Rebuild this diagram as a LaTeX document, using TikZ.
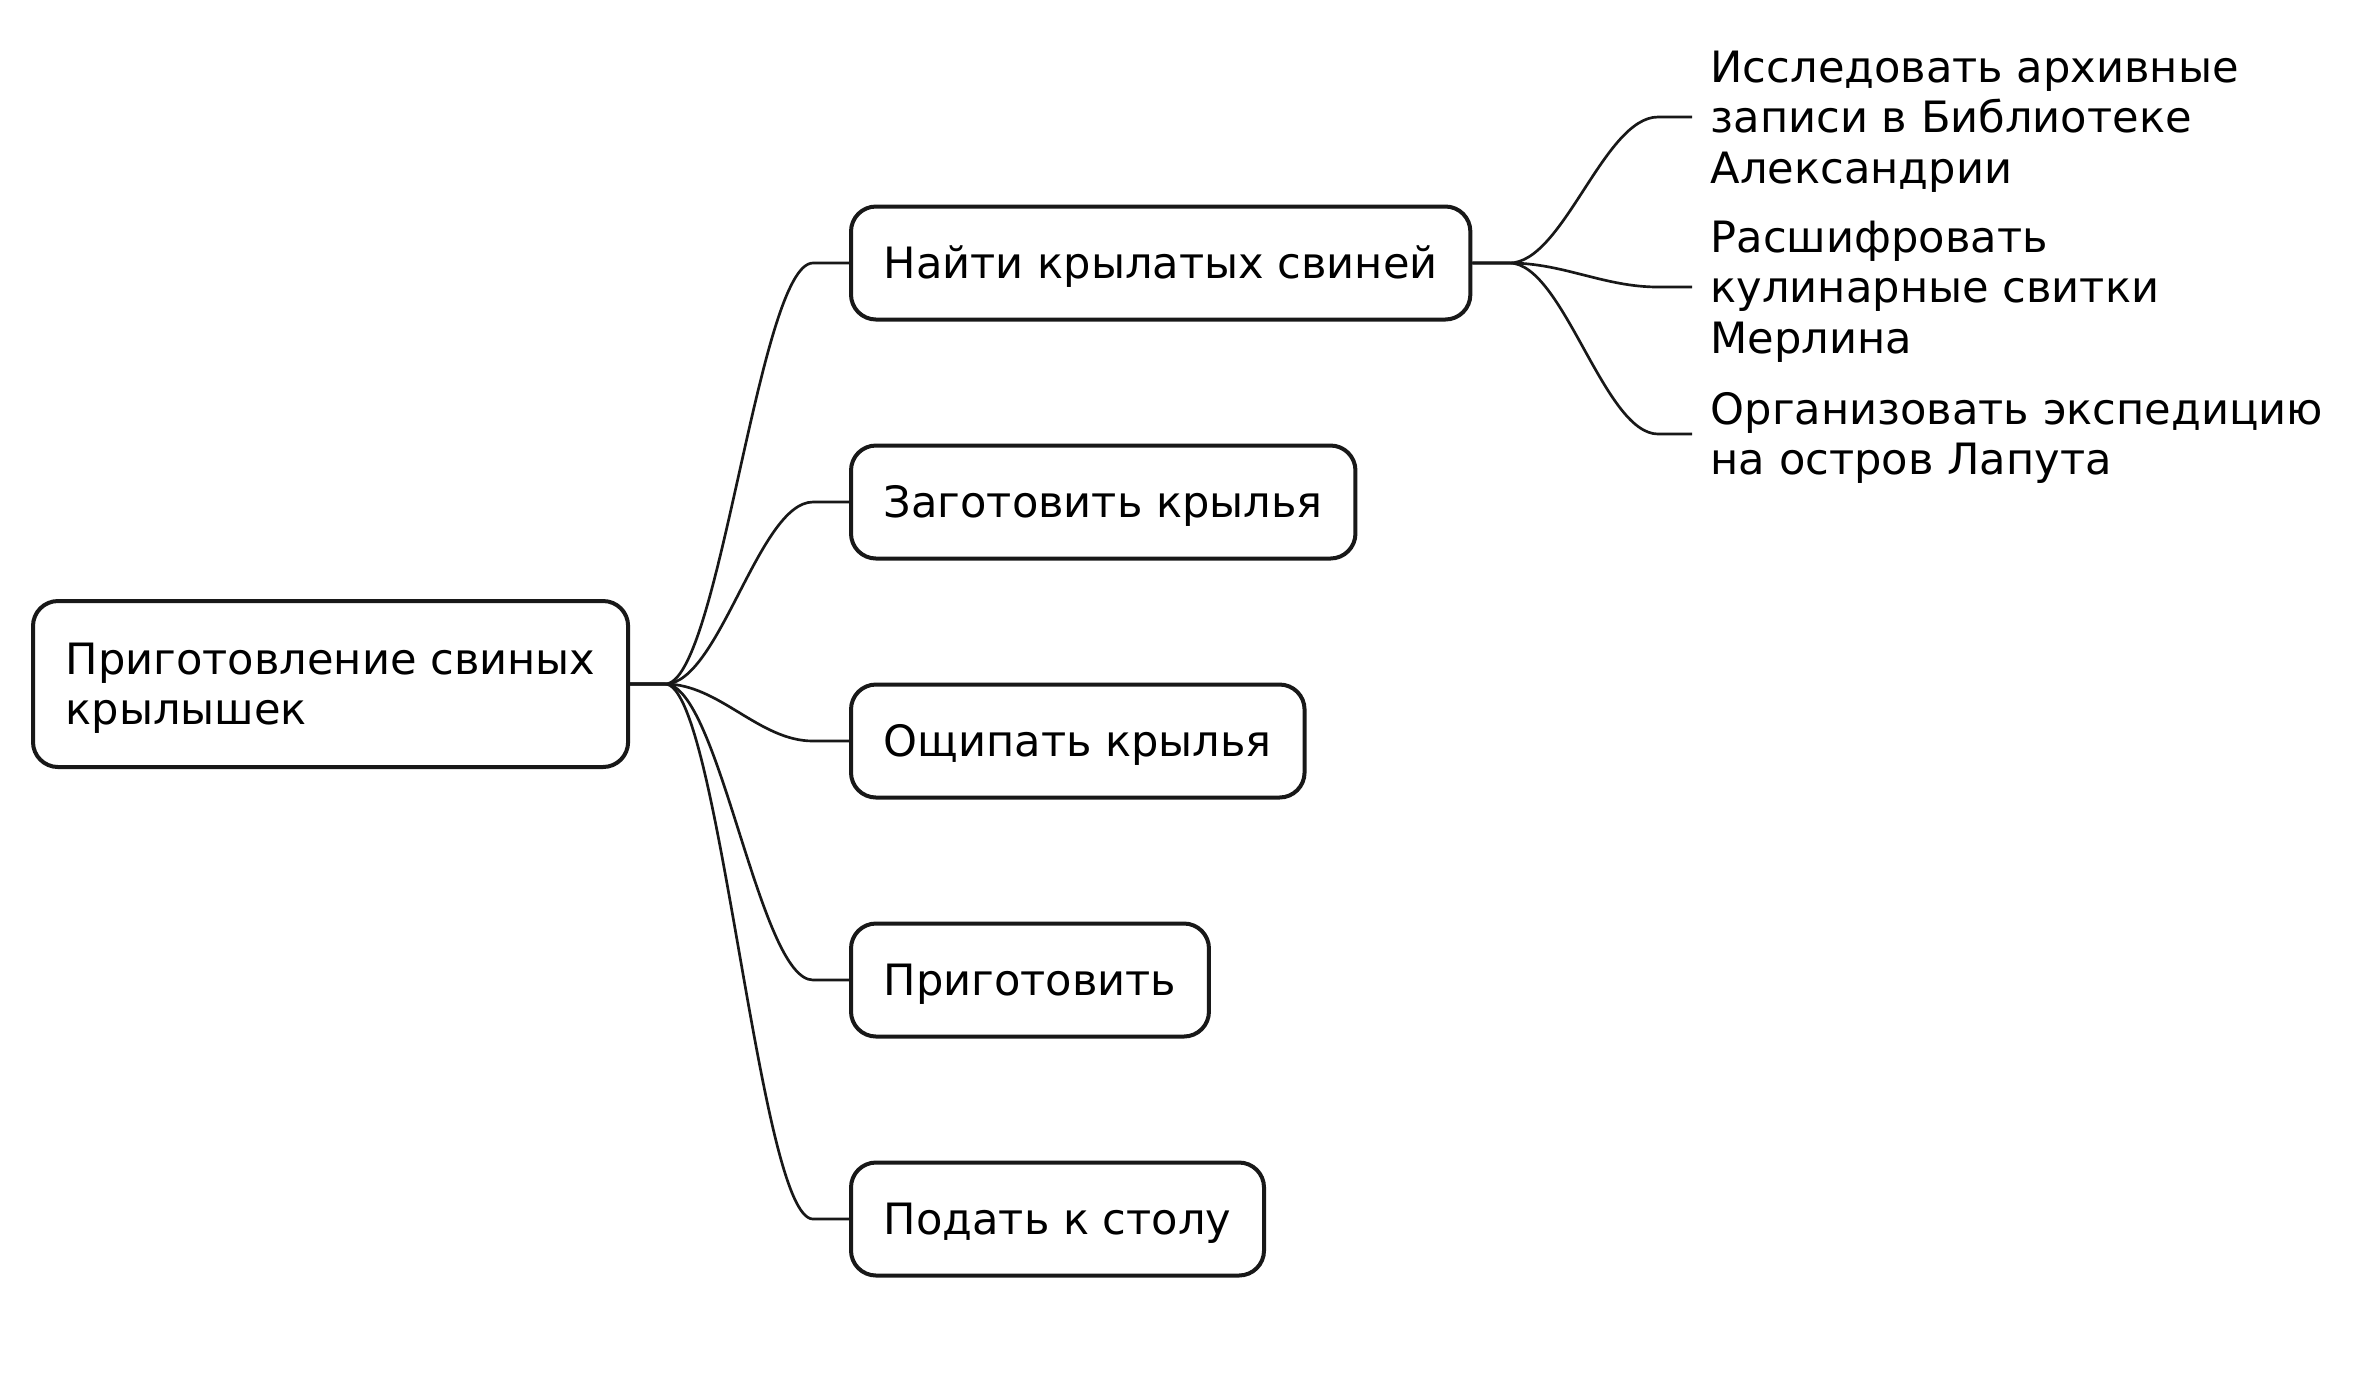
\documentclass[tikz,border=0pt]{standalone}
\usepackage{fontspec}
\setmainfont{DejaVu Sans}
\usetikzlibrary{calc}
\definecolor{ink}{HTML}{181818}
\newcommand{\mfs}{\fontsize{12.95pt}{15.1pt}\selectfont}
\newcommand{\fst}{\rule{0pt}{12.2pt}}
\newcommand{\lst}{\rule[-2.75pt]{0pt}{0pt}}
\begin{document}
\begin{tikzpicture}[x=0.3pt,y=-0.3pt,
  box/.style={draw=ink, line width=1.2pt, rounded corners=7.5pt, fill=white,
    inner xsep=9.8pt, inner ysep=0pt, anchor=west, font=\mfs, text=black},
  onebox/.style={box, minimum height=33.9pt, text height=11.8pt, text depth=2.36pt},
  rootbox/.style={box, minimum height=49.8pt, align=left, inner xsep=9.8pt},
  leaf/.style={inner xsep=5.4pt, inner ysep=0pt, anchor=west, align=left, font=\mfs, text=black},
  conn/.style={draw=ink, line width=0.8pt}
]
\useasboundingbox (0,0) rectangle (2372,1372);

\node[rootbox] (root) at (31,684) {\fst Приготовление свиных\\крылышек\lst};

\node[onebox] (c1) at (849,263) {Найти крылатых свиней};
\node[onebox] (c2) at (849,502) {Заготовить крылья};
\node[onebox] (c3) at (849,741) {Ощипать крылья};
\node[onebox] (c4) at (849,980) {Приготовить};
\node[onebox] (c5) at (849,1219) {Подать к столу};

\node[leaf] (g1) at (1692,117) {\fst Исследовать архивные\\записи в Библиотеке\\Александрии\lst};
\node[leaf] (g2) at (1692,287) {\fst Расшифровать\\кулинарные свитки\\Мерлина\lst};
\node[leaf] (g3) at (1692,434) {\fst Организовать экспедицию\\на остров Лапута\lst};

\coordinate (j0) at ($(root.east)+(35,0)$);
\foreach \c in {c1,c2,c3,c4,c5}{
  \coordinate (e-\c) at ($(\c.west)+(-36,0)$);
  \draw[conn] (root.east) -- (j0) .. controls +(54,0) and +(-54,0) .. (e-\c) -- (\c.west);
}
\coordinate (j1) at ($(c1.east)+(37,0)$);
\foreach \g in {g1,g2,g3}{
  \coordinate (f-\g) at ($(\g.west)+(-34,0)$);
  \draw[conn] (c1.east) -- (j1) .. controls +(54,0) and +(-54,0) .. (f-\g) -- (\g.west);
}
\end{tikzpicture}
\end{document}
